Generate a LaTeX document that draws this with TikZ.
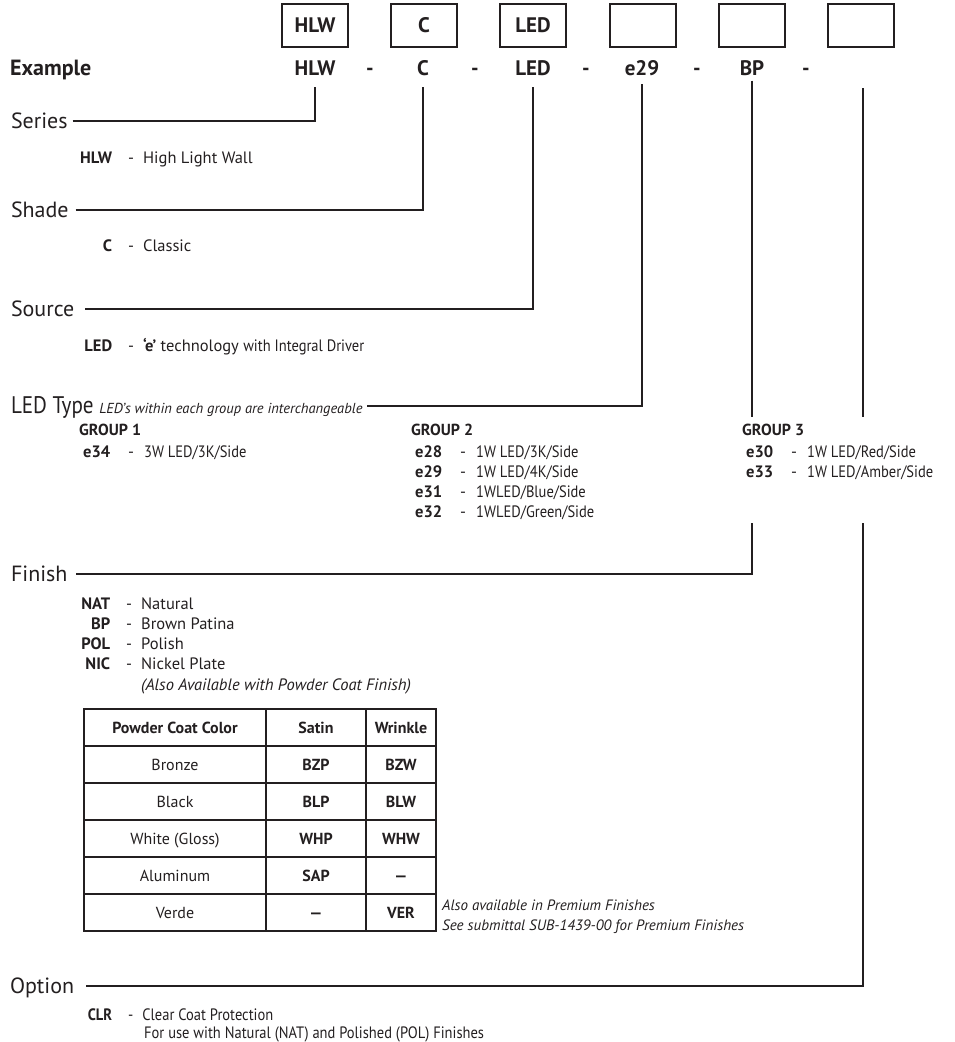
\documentclass[tikz,border=0pt]{standalone}
\usepackage{fontspec}
\setmainfont{PT Sans}
\newfontfamily\condfont{PT Sans}[FakeStretch=0.88]
\usepackage{tikz}
\usetikzlibrary{positioning,calc}

\definecolor{ink}{HTML}{231F20}

\newcommand{\codeline}[2]{\makebox[36pt][r]{\bfseries #1}\hspace{16pt}-\hspace{9pt}#2}
\newcommand{\groupline}[2]{\hspace{4pt}\makebox[45pt][l]{\bfseries #1}-\hspace{10pt}{\condfont #2}}

\begin{document}
\begin{tikzpicture}[x=1pt, y=-1pt,
    every node/.style={text=ink, inner sep=0pt},
    codebox/.style={draw=ink, line width=1.3pt, minimum width=66pt, minimum height=43pt, font=\fontsize{21}{24}\selectfont\bfseries},
    excode/.style={font=\fontsize{21}{24}\selectfont\bfseries, text height=15pt, text depth=0pt, outer ysep=11pt},
    lbl/.style={font=\fontsize{22}{26}\selectfont, anchor=west, text height=15.5pt, text depth=0pt, outer xsep=6pt},
    desc/.style={font=\fontsize{16.5}{20}\selectfont, anchor=west, text height=12pt, text depth=0pt},
    grp/.style={font=\fontsize{16}{20}\selectfont\bfseries, anchor=west, text height=11.5pt, text depth=0pt},
    cell/.style={font=\fontsize{16}{19}\selectfont, text height=11.5pt, text depth=0pt},
    hcell/.style={cell, font=\fontsize{16}{19}\selectfont\bfseries},
    note/.style={font=\fontsize{15}{18}\selectfont\itshape, anchor=west, text height=11pt, text depth=0pt},
    guide/.style={draw=ink, line width=1.2pt},
    grid/.style={draw=ink, line width=1.1pt}
]
\useasboundingbox (0,0) rectangle (954,1042);

% code boxes
\node[codebox] (bhlw) at (315,25.5) {HLW};
\node[codebox] (bc) at (424,25.5) {C};
\node[codebox] (bled) at (533,25.5) {LED};
\node[codebox] (btype) at (643,25.5) {};
\node[codebox] (bfin) at (752,25.5) {};
\node[codebox] (bopt) at (861,25.5) {};

% example row
\node[excode, anchor=west, outer ysep=0pt, font=\fontsize{22}{24}\selectfont\bfseries] (example) at (10,68) {Example};
\node[excode] (exhlw) at (315,68) {HLW};
\node[excode, outer ysep=0pt] (d1) at (370,68) {-};
\node[excode] (exc) at (423,68) {C};
\node[excode, outer ysep=0pt] (d2) at (475,68) {-};
\node[excode] (exled) at (533,68) {LED};
\node[excode, outer ysep=0pt] (d3) at (586,68) {-};
\node[excode, outer ysep=8pt] (extype) at (642,68) {e29};
\node[excode, outer ysep=0pt] (d4) at (697,68) {-};
\node[excode, outer ysep=5pt] (exfin) at (752,68) {BP};
\node[excode, outer ysep=0pt] (d5) at (806,68) {-};
\coordinate (exopt) at (863,88);

% series
\node[lbl, outer xsep=5pt] (series) at (6,121) {Series};
\node[desc] (hlw) at (76,157) {\codeline{HLW}{High Light Wall}};
\draw[guide] (series.east) -| (exhlw.south);

% shade
\node[lbl, outer xsep=7pt] (shade) at (4,210) {Shade};
\node[desc] (classic) at (76,245) {\codeline{C}{Classic}};
\draw[guide] (shade.east) -| (exc.south);

% source
\node[lbl, outer xsep=11pt] (source) at (0,309) {Source};
\node[desc] (ledsrc) at (76,345) {\codeline{LED}{{\bfseries ‘e’} technology {\condfont with Integral Driver}}};
\draw[guide] (source.east) -| (exled.south);

% led type
\node[lbl, font=\fontsize{24}{28}\condfont, outer xsep=5pt] (ledtype) at (6,406) {LED Type {\rmfamily\fontsize{14.5}{16}\selectfont\itshape LED’s within each group are interchangeable}};
\draw[guide] (ledtype.east) -| (extype.south);

\node[grp] (grp1) at (79,430) {GROUP 1};
\node[desc] (e34) at (79,451) {\groupline{e34}{3W LED/3K/Side}};

\node[grp] (grp2) at (411,430) {GROUP 2};
\node[desc] (e28) at (411,451) {\groupline{e28}{1W LED/3K/Side}};
\node[desc] (e29) at (411,471) {\groupline{e29}{1W LED/4K/Side}};
\node[desc] (e31) at (411,491) {\groupline{e31}{1WLED/Blue/Side}};
\node[desc] (e32) at (411,511) {\groupline{e32}{1WLED/Green/Side}};

\node[grp] (grp3) at (742,430) {GROUP 3};
\node[desc] (e30) at (742,451) {\groupline{e30}{1W LED/Red/Side}};
\node[desc] (e33) at (742,471) {\groupline{e33}{1W LED/Amber/Side}};

\coordinate (gaptop) at (0,417);
\coordinate (gapbot) at (0,523);
\draw[guide] (exfin.south) -- (exfin.south |- gaptop);
\draw[guide] (exopt) -- (exopt |- gaptop);

% finish
\node[lbl, outer xsep=9pt] (finish) at (2,574) {Finish};
\draw[guide] (finish.east) -| (exfin.south |- gapbot);
\node[desc] (nat) at (74,603) {\codeline{NAT}{Natural}};
\node[desc] (bp) at (74,623) {\codeline{BP}{Brown Patina}};
\node[desc] (pol) at (74,643) {\codeline{POL}{Polish}};
\node[desc] (nic) at (74,663) {\codeline{NIC}{Nickel Plate}};
\node[desc, font=\fontsize{16.5}{20}\selectfont\itshape] (also) at (141,684) {(Also Available with Powder Coat Finish)};

% powder coat table
\draw[grid] (84,709) rectangle (436,931);
\draw[grid] (84,746) -- (436,746);
\draw[grid] (84,783) -- (436,783);
\draw[grid] (84,820) -- (436,820);
\draw[grid] (84,857) -- (436,857);
\draw[grid] (84,894) -- (436,894);
\draw[grid] (266,709) -- (266,931);
\draw[grid] (366,709) -- (366,931);

\node[hcell] (hcolor) at (175,727.5) {Powder Coat Color};
\node[hcell] (hsatin) at (316,727.5) {Satin};
\node[hcell] (hwrinkle) at (401,727.5) {Wrinkle};
\node[cell] (bronze) at (175,764.5) {Bronze};
\node[hcell] (bzp) at (316,764.5) {BZP};
\node[hcell] (bzw) at (401,764.5) {BZW};
\node[cell] (black) at (175,801.5) {Black};
\node[hcell] (blp) at (316,801.5) {BLP};
\node[hcell] (blw) at (401,801.5) {BLW};
\node[cell] (white) at (175,838.5) {White (Gloss)};
\node[hcell] (whp) at (316,838.5) {WHP};
\node[hcell] (whw) at (401,838.5) {WHW};
\node[cell] (alum) at (175,875.5) {Aluminum};
\node[hcell] (sap) at (316,875.5) {SAP};
\node[hcell] (alumw) at (401,875.5) {—};
\node[cell] (verde) at (175,912.5) {Verde};
\node[hcell] (verdes) at (316,912.5) {—};
\node[hcell] (ver) at (401,912.5) {VER};

\node[note] (prem1) at (442,905) {Also available in Premium Finishes};
\node[note] (prem2) at (442,925) {See submittal SUB-1439-00 for Premium Finishes};

% option
\node[lbl, outer xsep=12pt] (option) at (-2,986) {Option};
\draw[guide] (option.east) -| (exopt |- gapbot);
\node[desc, font=\fontsize{16.5}{20}\condfont] (clr) at (76,1014) {\codeline{CLR}{Clear Coat Protection}};
\node[desc, font=\fontsize{16.5}{20}\condfont] (clrnote) at (144,1032) {For use with Natural (NAT) and Polished (POL) Finishes};

\end{tikzpicture}
\end{document}
